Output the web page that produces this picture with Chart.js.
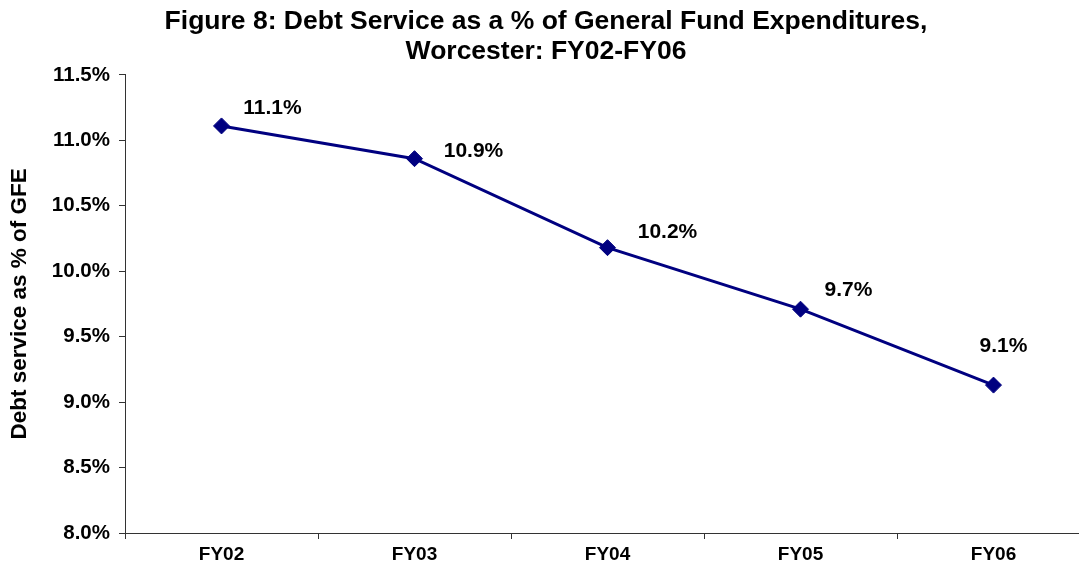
<!DOCTYPE html>
<html>
<head>
<meta charset="utf-8">
<script src="https://cdn.jsdelivr.net/npm/chart.js@4/dist/chart.umd.min.js"></script>
<style>
  html, body { margin: 0; padding: 0; background: #fff; overflow: hidden; }
  #wrap { width: 1099px; height: 573px; }
</style>
</head>
<body>
<div id="wrap"><canvas id="myChart" width="1099" height="573"></canvas></div>
<script>
const years = ["FY02", "FY03", "FY04", "FY05", "FY06"];
const debtShare = [11.11, 10.86, 10.18, 9.71, 9.13];
const yTicks = [8.0, 8.5, 9.0, 9.5, 10.0, 10.5, 11.0, 11.5];

const FONT = "'Liberation Sans', Arial, sans-serif";

// where each value label sits relative to its point (px)
const labelShift = [[51, -18], [59, -7], [60, -15], [48, -19], [10, -39]];

const valueLabels = {
  id: "valueLabels",
  afterDatasetsDraw(chart) {
    const ctx = chart.ctx;
    const meta = chart.getDatasetMeta(0);
    ctx.save();
    ctx.font = "bold 21px " + FONT;
    ctx.fillStyle = "#000";
    ctx.textAlign = "center";
    ctx.textBaseline = "middle";
    meta.data.forEach((pt, i) => {
      const [dx, dy] = labelShift[i];
      ctx.fillText(debtShare[i].toFixed(1) + "%", pt.x + dx, pt.y + dy);
    });
    ctx.restore();
  },
};

// keeps the title centred over the visible 1092px-wide frame
const centreTitle = {
  id: "centreTitle",
  afterLayout(chart) {
    const t = chart.titleBlock;
    if (t) { t.left = 0; t.right = 1092; t.width = 1092; }
  },
};

const ctx = document.getElementById("myChart").getContext("2d");
new Chart(ctx, {
  type: "line",
  data: {
    labels: years,
    datasets: [
      {
        label: "Debt service",
        data: debtShare,
        borderColor: "#000080",
        backgroundColor: "#000080",
        borderWidth: 3,
        pointStyle: "rectRot",
        pointRadius: 8,
        pointBorderWidth: 1,
        tension: 0,
      },
    ],
  },
  options: {
    responsive: false,
    animation: false,
    layout: { padding: { left: 0, right: 2, top: 0, bottom: 0 } },
    plugins: {
      legend: { display: false },
      tooltip: { enabled: false },
      title: {
        display: true,
        text: [
          "Figure 8: Debt Service as a % of General Fund Expenditures,",
          "Worcester: FY02-FY06",
        ],
        color: "#000",
        font: { family: FONT, size: 26.5, weight: "bold", lineHeight: 1.13 },
        padding: { top: 7, bottom: 8 },
      },
    },
    scales: {
      x: {
        offset: true,
        grid: { offset: true, drawOnChartArea: false, tickLength: 6, color: "#333" },
        border: { color: "#333", width: 1 },
        ticks: {
          color: "#000",
          padding: 4,
          font: { family: FONT, size: 19, weight: "bold" },
        },
        afterFit: (scale) => { scale.height = 40; },
      },
      y: {
        min: yTicks[0],
        max: yTicks[yTicks.length - 1],
        afterBuildTicks: (scale) => { scale.ticks = yTicks.map((v) => ({ value: v })); },
        grid: { drawOnChartArea: false, tickLength: 6, color: "#333" },
        border: { color: "#333", width: 1 },
        ticks: {
          color: "#000",
          padding: 9,
          font: { family: FONT, size: 20.5, weight: "bold" },
          callback: (v) => Number(v).toFixed(1) + "%",
        },
        title: {
          display: true,
          text: "Debt service as % of GFE",
          color: "#000",
          font: { family: FONT, size: 22.5, weight: "bold" },
          padding: { top: 6, bottom: 0 },
        },
        afterFit: (scale) => { scale.width = 125; },
      },
    },
  },
  plugins: [valueLabels, centreTitle],
});
</script>
</body>
</html>
